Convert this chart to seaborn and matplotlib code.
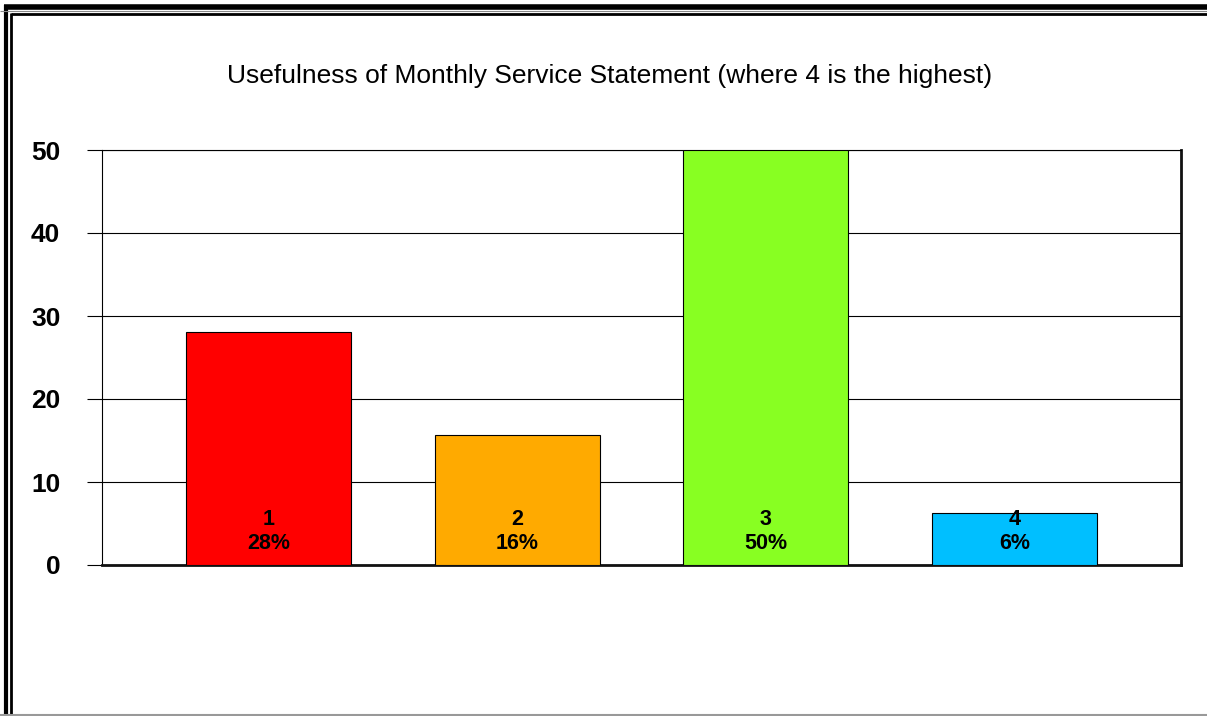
import matplotlib
matplotlib.use("Agg")
import matplotlib.pyplot as plt
from matplotlib.lines import Line2D
import seaborn as sns
import pandas as pd

# Survey responses per rating (32 respondents)
ratings = ["1", "2", "3", "4"]
counts = [9, 5, 16, 2]
bar_colors = ["#FF0000", "#FFAA00", "#88FF22", "#00BFFF"]
y_ticks = [0, 10, 20, 30, 40, 50]
title = "Usefulness of Monthly Service Statement (where 4 is the highest)"

total = sum(counts)
percents = [c / total * 100 for c in counts]
df = pd.DataFrame({"rating": ratings, "percent": percents})

sns.set_theme(style="white")
plt.rcParams["font.family"] = ["Liberation Sans", "DejaVu Sans"]

fig = plt.figure(figsize=(12.07, 7.16), dpi=100)
ax = fig.add_axes([102 / 1207, 1 - 565 / 716, 1079 / 1207, 415 / 716])

sns.barplot(data=df, x="rating", y="percent", hue="rating", palette=bar_colors,
            saturation=1, legend=False, width=0.664, edgecolor="black",
            linewidth=0.8, ax=ax, zorder=3)

ax.set_xlim(-0.67, 3.67)
ax.set_ylim(0, 50)
ax.set_yticks(y_ticks)
ax.set_yticklabels([str(t) for t in y_ticks], fontsize=19, fontweight="bold")
ax.tick_params(axis="y", direction="out", length=11, width=0.8, color="black",
               labelcolor="black", left=True, pad=19)
ax.tick_params(axis="x", bottom=False, labelbottom=False)
ax.set_xlabel("")
ax.set_ylabel("")
ax.yaxis.grid(True, color="black", linewidth=0.8, zorder=0)
ax.set_axisbelow(True)
for side in ["top", "left"]:
    ax.spines[side].set_color("black")
    ax.spines[side].set_linewidth(0.8)
for side in ["right", "bottom"]:
    ax.spines[side].set_color("#111111")
    ax.spines[side].set_linewidth(2.0)

# Rating and share labels near the base of each bar
for i, (r, p) in enumerate(zip(ratings, percents)):
    ax.annotate(f"{r}\n{p:.0f}%", xy=(i, 0), xytext=(0, 24), textcoords="offset points",
                ha="center", va="center", fontsize=15.5, fontweight="bold",
                color="black", linespacing=1.15, zorder=5)

fig.text(610 / 1207, 1 - 76 / 716, title, ha="center", va="center",
         fontsize=19, color="black")

# Double frame around the chart
W, H = 1207, 716
def fx(x):
    return x / W
def fy(y):
    return 1 - y / H
frame = [
    ([fx(4), fx(1210)], [fy(7), fy(7)], 4.0, "black"),
    ([fx(5.5), fx(5.5)], [fy(5), fy(720)], 3.0, "black"),
    ([fx(10.5), fx(1210)], [fy(13.5), fy(13.5)], 2.0, "black"),
    ([fx(11), fx(11)], [fy(13), fy(720)], 2.0, "black"),
    ([fx(0), fx(1210)], [fy(10.5), fy(10.5)], 0.8, "#888888"),
    ([fx(0), fx(1210)], [fy(715), fy(715)], 1.5, "#999999"),
]
for xs, ys, lw, c in frame:
    fig.add_artist(Line2D(xs, ys, transform=fig.transFigure, lw=lw, color=c,
                          solid_capstyle="butt"))

fig.savefig("out.png", dpi=100, facecolor="white")
